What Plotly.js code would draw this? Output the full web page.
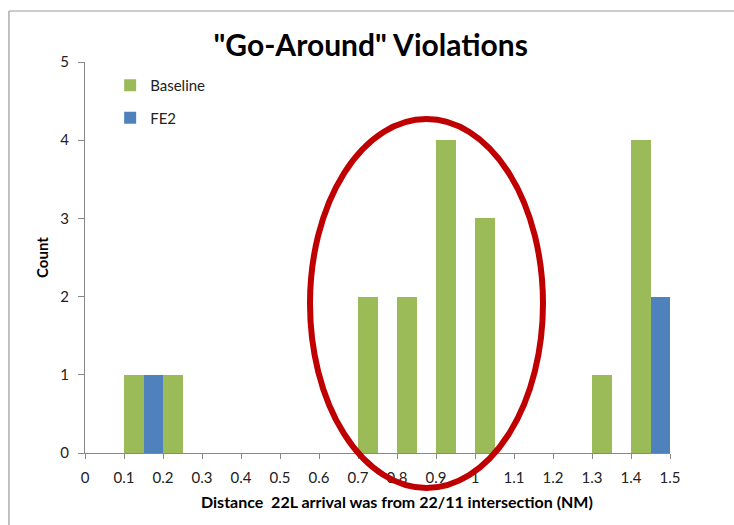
<!DOCTYPE html>
<html>
<head>
<meta charset="utf-8">
<script src="https://cdn.plot.ly/plotly-3.0.1.min.js"></script>
<style>html,body{margin:0;padding:0;background:#fff;overflow:hidden;}#chart{width:734px;height:525px;}</style>
</head>
<body>
<div id="chart"></div>
<script>
// Bin left edges (NM)
var binStarts = [0, 0.1, 0.2, 0.3, 0.4, 0.5, 0.6, 0.7, 0.8, 0.9, 1.0, 1.1, 1.2, 1.3, 1.4];
var baselineCounts = [0, 1, 1, 0, 0, 0, 0, 2, 2, 4, 3, 0, 0, 1, 4];
var fe2Counts = [0, 1, 0, 0, 0, 0, 0, 0, 0, 0, 0, 0, 0, 0, 2];
var tickValues = [0, 0.1, 0.2, 0.3, 0.4, 0.5, 0.6, 0.7, 0.8, 0.9, 1.0, 1.1, 1.2, 1.3, 1.4, 1.5];
var tickLabels = ["0", "0.1", "0.2", "0.3", "0.4", "0.5", "0.6", "0.7", "0.8", "0.9", "1", "1.1", "1.2", "1.3", "1.4", "1.5"];

var binWidth = 0.1;
var binCenters = binStarts.map(function (b) { return Math.round((b + binWidth / 2) * 1000) / 1000; });

var font = "Lato, 'Open Sans', sans-serif";

var traces = [
  {
    type: "bar", name: "Baseline", x: binCenters, y: baselineCounts,
    marker: { color: "#9BBB59" }, legendgroup: "a", hoverinfo: "x+y"
  },
  {
    type: "bar", name: "FE2", x: binCenters, y: fe2Counts,
    marker: { color: "#4F81BD" }, legendgroup: "b", hoverinfo: "x+y"
  }
];

var layout = {
  width: 734, height: 525,
  margin: { l: 85, r: 64, t: 62, b: 72, pad: 0 },
  paper_bgcolor: "#ffffff", plot_bgcolor: "#ffffff",
  font: { family: font, color: "#222", size: 13 },
  barmode: "group", bargap: 0, bargroupgap: 0,
  title: {
    text: "<b>\"Go-Around\" Violations</b>",
    font: { family: font, size: 30, color: "#000" },
    x: 0.505, xanchor: "center", y: 0.914, yanchor: "middle"
  },
  xaxis: {
    range: [0, 1.5], tickmode: "array", tickvals: tickValues, ticktext: tickLabels,
    ticks: "outside", ticklen: 5, tickcolor: "#888", showline: true, linecolor: "#888", linewidth: 1,
    showgrid: false, zeroline: false, tickfont: { size: 15, color: "#222" }, ticklabelstandoff: 6
  },
  yaxis: {
    range: [0, 5], dtick: 1, ticks: "outside", ticklen: 6, tickcolor: "#888",
    showline: true, linecolor: "#888", linewidth: 1, showgrid: false, zeroline: false,
    tickfont: { size: 15, color: "#222" }, ticklabelstandoff: 6,
    title: { text: "<b>Count</b>", font: { size: 15, color: "#000" }, standoff: 8 }
  },
  legend: {
    x: 0.043, y: 0.982, xanchor: "left", yanchor: "top",
    bgcolor: "rgba(0,0,0,0)", font: { size: 15, color: "#222" },
    tracegroupgap: 10, itemclick: false
  },
  showlegend: true,
  annotations: [
    {
      text: "<b>Distance  22L arrival was from 22/11 intersection (NM)</b>",
      xref: "paper", yref: "paper", x: 0.533, y: -0.125, xanchor: "center", yanchor: "middle",
      showarrow: false, font: { size: 16, color: "#000" }
    }
  ],
  shapes: [
    {
      type: "line", xref: "paper", yref: "paper",
      x0: -0.13, x1: 1.15, y0: 1.1304, y1: 1.1304,
      line: { color: "#999", width: 1.2 }, layer: "below"
    },
    {
      type: "line", xref: "paper", yref: "paper",
      x0: -0.13, x1: -0.13, y0: -0.3, y1: 1.1304,
      line: { color: "#999", width: 1.2 }, layer: "below"
    },
    {
      type: "circle", xref: "paper", yref: "paper",
      ysizemode: "pixel", yanchor: 0,
      x0: 0.3846, x1: 0.7829, y0: -35, y1: 334,
      line: { color: "#C00000", width: 6 }, fillcolor: "rgba(0,0,0,0)", layer: "above"
    }
  ]
};

Plotly.newPlot("chart", traces, layout, { displayModeBar: false, staticPlot: true });
</script>
</body>
</html>
